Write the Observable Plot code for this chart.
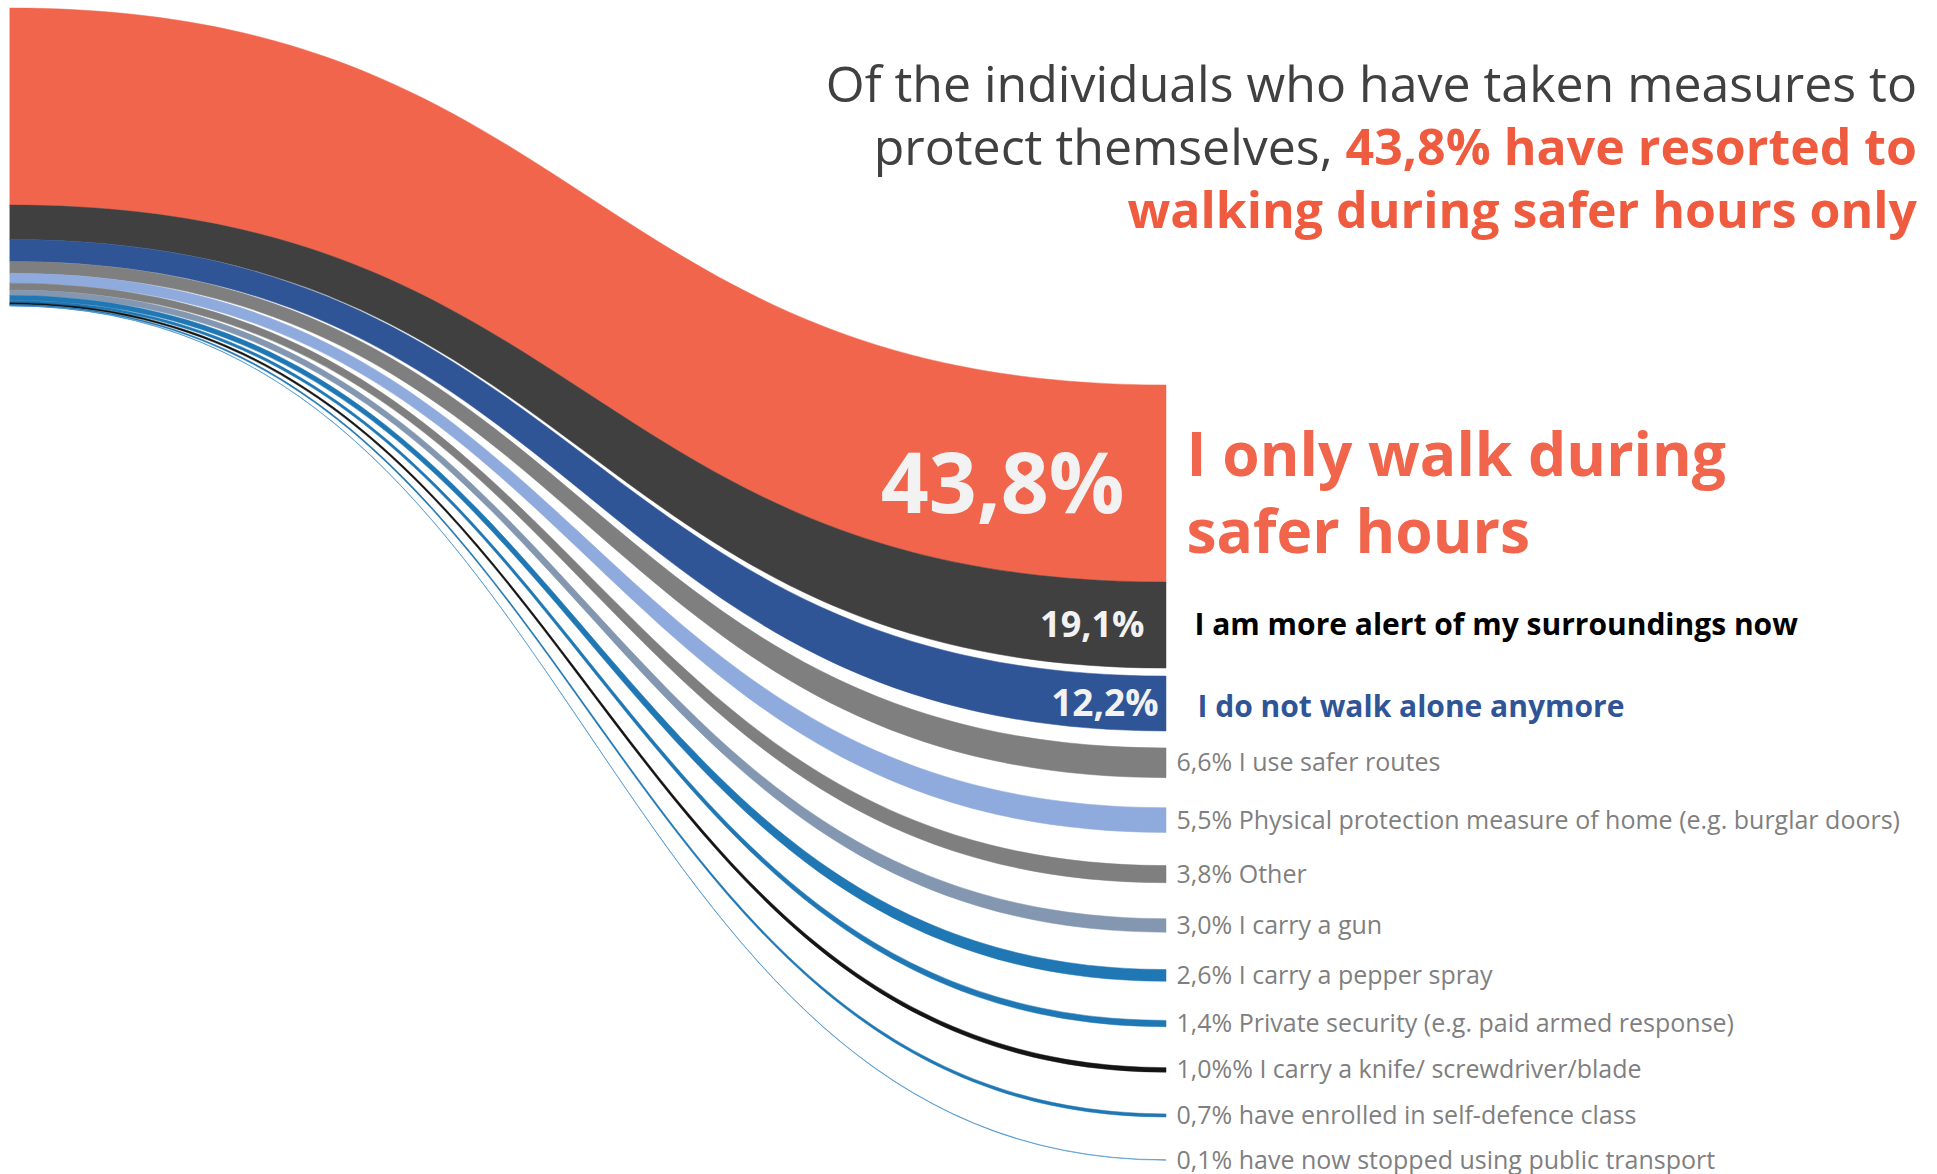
<!DOCTYPE html>
<html>
<head>
<meta charset="utf-8">
<script src="https://cdn.jsdelivr.net/npm/d3@7"></script>
<script src="https://cdn.jsdelivr.net/npm/@observablehq/plot@0.6"></script>
<style>
  html, body { margin: 0; padding: 0; background: #fff; }
  #wrap { position: relative; width: 1937px; height: 1174px; overflow: hidden; }
  #title {
    position: absolute; right: 20px; top: 52px; text-align: right;
    font-family: 'Open Sans', sans-serif; font-size: 50px; line-height: 63px;
    color: #404040; white-space: nowrap;
  }
  #title b { color: #EF5B3F; font-weight: 700; }
</style>
</head>
<body>
<div id="wrap"><div id="title"></div></div>
<script>
// ---- data ----
const measures = [
  "I only walk during safer hours",
  "I am more alert of my surroundings now",
  "I do not walk alone anymore",
  "I use safer routes",
  "Physical protection measure of home (e.g. burglar doors)",
  "Other",
  "I carry a gun",
  "I carry a pepper spray",
  "Private security (e.g. paid armed response)",
  "I carry a knife/ screwdriver/blade",
  "have enrolled in self-defence class",
  "have now stopped using public transport"
];
const shares = [43.8, 19.1, 12.2, 6.6, 5.5, 3.8, 3.0, 2.6, 1.4, 1.0, 0.7, 0.1];
const rightLabels = [
  "I only walk during\nsafer hours",
  "I am more alert of my surroundings now",
  "I do not walk alone anymore",
  "6,6% I use safer routes",
  "5,5% Physical protection measure of home (e.g. burglar doors)",
  "3,8% Other",
  "3,0% I carry a gun",
  "2,6% I carry a pepper spray",
  "1,4% Private security (e.g. paid armed response)",
  "1,0%% I carry a knife/ screwdriver/blade",
  "0,7% have enrolled in self-defence class",
  "0,1% have now stopped using public transport"
];
const palette = ["#F0654B", "#404040", "#2F5597", "#7F7F7F", "#8FAADC", "#7F7F7F",
                 "#8497B0", "#1F77B4", "#1F77B4", "#141414", "#1F77B4", "#3A8AC9"];
const titleLine1 = "Of the individuals who have taken measures to";
const titleLine2 = "protect themselves, ";
const titleHighlight = ["43,8% have resorted to", "walking during safer hours only"];

// ---- layout (in percentage-point units; 1 point = PX px) ----
const PX = 4.5;
const fmt = v => v.toFixed(1).replace(".", ",") + "%";
const n = shares.length;

const left = [];
let ly = 8 / PX;
shares.forEach((v, i) => {
  const t = v * (i === 0 ? 1 : 0.4);
  left.push([ly, ly + t]); ly += t;
});

const right = [];
let ry = 385 / PX;
right.push([ry, ry + shares[0]]); ry += shares[0];
right.push([ry, ry + shares[1]]); ry += shares[1] + 8 / PX;
right.push([ry, ry + shares[2]]); ry += shares[2];
// rows for the smaller measures: spacing = constant + half of the neighbours' mean thickness
const firstRow = ry + 17 / PX + shares[3] / 2;
const lastRow = 1160 / PX;
const halfSums = d3.range(3, n - 1).map(i => 0.5 * (shares[i] + shares[i + 1]) / 2);
const c0 = (lastRow - firstRow - d3.sum(halfSums)) / halfSums.length;
let c = firstRow;
for (let i = 3; i < n; i++) {
  right.push([c - shares[i] / 2, c + shares[i] / 2]);
  if (i < n - 1) c += c0 + halfSums[i - 3];
}

const bands = [];
measures.forEach((m, i) => {
  bands.push({measure: m, x: 0, y1: left[i][0], y2: left[i][1]});
  bands.push({measure: m, x: 1, y1: right[i][0], y2: right[i][1]});
});
const ends = measures.map((m, i) => ({
  measure: m, i, x: 1, y: (right[i][0] + right[i][1]) / 2,
  label: rightLabels[i], pct: fmt(shares[i])
}));

const font = "'Open Sans', sans-serif";
const chart = Plot.plot({
  width: 1937, height: 1174, margin: 0,
  style: {background: "transparent", fontFamily: font},
  x: {domain: [0, 1], range: [10, 1166], axis: null},
  y: {domain: [0, 1174 / PX], range: [0, 1174], axis: null},
  color: {domain: measures, range: palette},
  marks: [
    Plot.areaY(bands, {x: "x", y1: "y1", y2: "y2", z: "measure", fill: "measure",
      stroke: "measure", strokeWidth: 0.5, curve: "bump-x"}),
    // big percentages inside the three top bands
    Plot.text(ends.filter(d => d.i === 0), {x: "x", y: "y", text: "pct", textAnchor: "end",
      dx: -42, dy: 2, fontSize: 84, fontWeight: "bold", fill: "#F2F2F2", fontFamily: font}),
    Plot.text(ends.filter(d => d.i === 1), {x: "x", y: "y", text: "pct", textAnchor: "end",
      dx: -22, fontSize: 36, fontWeight: "bold", fill: "#F2F2F2", fontFamily: font}),
    Plot.text(ends.filter(d => d.i === 2), {x: "x", y: "y", text: "pct", textAnchor: "end",
      dx: -8, fontSize: 37, fontWeight: "bold", fill: "#F2F2F2", fontFamily: font}),
    // labels to the right
    Plot.text(ends.filter(d => d.i === 0), {x: "x", y: "y", text: "label", textAnchor: "start",
      dx: 20, dy: 6, fontSize: 60.5, lineHeight: 1.27, fontWeight: "bold", fill: palette[0], fontFamily: font}),
    Plot.text(ends.filter(d => d.i === 1), {x: "x", y: "y", text: "label", textAnchor: "start",
      dx: 28, fontSize: 30, fontWeight: "bold", fill: "#000", fontFamily: font}),
    Plot.text(ends.filter(d => d.i === 2), {x: "x", y: "y", text: "label", textAnchor: "start",
      dx: 31, dy: 3, fontSize: 30, fontWeight: "bold", fill: palette[2], fontFamily: font}),
    Plot.text(ends.filter(d => d.i >= 3), {x: "x", y: "y", text: "label", textAnchor: "start",
      dx: 10, fontSize: 25, fill: "#7F7F7F", fontFamily: font})
  ]
});
const wrap = document.getElementById("wrap");
wrap.insertBefore(chart, wrap.firstChild);
const title = document.getElementById("title");
title.append(titleLine1, document.createElement("br"), titleLine2);
const b = document.createElement("b");
b.append(titleHighlight[0], document.createElement("br"), titleHighlight[1]);
title.append(b);
</script>
</body>
</html>
